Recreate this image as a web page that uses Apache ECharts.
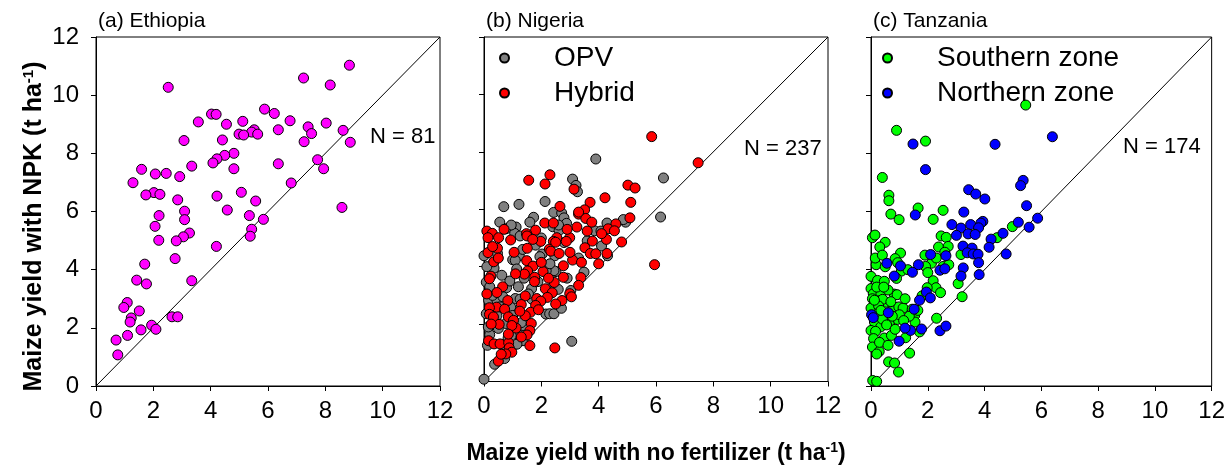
<!DOCTYPE html>
<html>
<head>
<meta charset="utf-8">
<script src="https://cdn.jsdelivr.net/npm/echarts@6/dist/echarts.min.js"></script>
<style>
  html, body { margin: 0; padding: 0; background: #fff; }
  #chart { width: 1228px; height: 470px; }
</style>
</head>
<body>
<div id="chart"></div>
<script>
// axis ticks, same on every panel
var tickMin = 0, tickMax = 12, tickStep = 2;
var oneToOne = [[0, 0], [12, 12]];

// panel titles and sample sizes
var panelNames = ['(a) Ethiopia', '(b) Nigeria', '(c) Tanzania'];
var sampleSizes = ['N = 81', 'N = 237', 'N = 174'];

// (a) Ethiopia  [no fertilizer, NPK]
var ethiopia = [
  [8.84,11.03],[7.24,10.59],[8.17,10.35],[2.52,10.27],[5.88,9.52],[6.22,9.37],[4.03,9.35],[4.19,9.34],
  [3.57,9.08],[5.12,9.10],[6.77,9.12],[4.55,9.00],[8.03,9.04],[7.40,8.91],[5.52,8.81],[5.43,8.73],
  [6.36,8.81],[8.62,8.79],[4.99,8.66],[5.15,8.63],[5.64,8.66],[7.52,8.68],[3.07,8.44],[4.41,8.46],
  [7.26,8.40],[8.87,8.38],[4.81,8.00],[4.49,7.93],[4.22,7.81],[4.08,7.67],[6.36,7.64],[7.73,7.78],
  [3.34,7.56],[1.59,7.45],[7.94,7.47],[4.81,7.47],[2.07,7.29],[2.45,7.31],[2.92,7.20],[1.29,6.99],
  [6.81,6.98],[2.02,6.65],[1.74,6.57],[2.23,6.59],[5.07,6.66],[2.85,6.40],[4.22,6.53],[5.57,6.36],
  [3.09,6.01],[4.58,6.05],[8.58,6.14],[2.20,5.86],[3.09,5.72],[5.35,5.86],[5.84,5.73],[2.06,5.49],
  [5.43,5.39],[3.26,5.26],[3.05,5.13],[5.38,5.15],[2.19,5.01],[2.80,4.99],[4.20,4.80],[2.76,4.38],
  [1.70,4.19],[1.42,3.64],[1.76,3.51],[3.34,3.62],[1.09,2.87],[0.97,2.70],[1.51,2.58],[1.23,2.34],
  [1.19,2.20],[2.65,2.38],[2.85,2.38],[1.94,2.09],[2.09,1.95],[1.57,1.93],[1.10,1.74],[0.70,1.58],
  [0.76,1.07]
];

// (b) Nigeria
var nigeriaOPV = [
  [3.90,7.75],[6.26,7.09],[6.16,5.73],[3.09,7.05],[3.21,6.83],[3.26,6.61],[0.69,6.09],[1.22,6.17],
  [2.13,6.27],[1.73,5.72],[2.43,5.89],[2.71,5.87],[2.79,5.70],[2.88,5.51],[0.77,5.32],[1.12,5.38],
  [1.07,5.16],[1.26,5.07],[2.40,5.39],[2.62,5.26],[4.29,5.52],[3.86,5.25],[4.08,5.24],[4.94,5.55],
  [4.86,5.64],[4.10,4.72],[4.31,4.38],[0.00,4.38],[0.47,4.46],[1.23,4.38],[1.00,4.24],[1.09,4.22],
  [1.14,3.92],[2.03,4.44],[2.47,4.38],[2.79,4.84],[2.51,3.83],[2.44,3.86],[3.49,3.81],[0.08,3.46],
  [0.79,3.27],[1.66,3.23],[2.29,3.23],[2.47,3.20],[2.59,3.21],[3.03,3.17],[0.16,2.83],[0.45,2.83],
  [0.66,2.95],[1.09,2.89],[1.26,2.87],[1.67,2.87],[0.08,2.36],[0.93,2.59],[0.45,2.29],[0.76,2.02],
  [1.36,1.95],[2.16,2.35],[2.29,2.36],[2.44,2.36],[0.20,1.63],[0.12,1.26],[0.84,1.51],[1.20,1.63],
  [1.36,1.42],[3.06,1.40],[0.37,0.60],[0.72,0.80],[0.00,0.08],[1.88,3.48],[2.17,3.86],[0.34,4.15],
  [0.55,5.55],[0.95,5.45],[1.35,4.60],[1.80,4.75],[1.95,4.35],[0.35,3.95],[0.62,3.70],[0.90,3.50],
  [1.20,3.30],[1.55,3.05],[0.30,3.00],[0.55,2.60],[1.00,2.30],[1.30,2.05],[0.15,1.90],[0.50,1.85],
  [0.75,1.15],[0.95,1.60],[1.15,1.30],[2.70,2.55],[2.90,3.60],[3.30,4.30],[3.60,4.90],[2.00,5.00],
  [1.60,5.55],[2.30,4.10],[2.60,5.45],[1.40,3.60],[0.20,3.30],[0.10,4.00]
];
var nigeriaHybrid = [
  [5.85,8.53],[7.47,7.62],[1.56,7.01],[2.30,7.20],[2.13,6.88],[3.14,6.70],[5.02,6.84],[5.27,6.74],
  [4.22,6.40],[5.12,6.24],[3.70,6.24],[3.51,5.98],[3.30,5.83],[3.55,5.68],[5.09,5.70],[4.60,5.49],
  [2.12,5.52],[2.42,5.52],[1.80,5.27],[3.24,5.38],[3.76,5.55],[4.33,5.32],[3.60,5.24],[0.10,5.24],
  [0.29,5.16],[0.14,5.01],[0.51,5.01],[0.93,4.93],[1.48,5.15],[1.50,5.07],[1.98,4.88],[2.54,5.01],
  [2.99,5.01],[2.87,4.88],[2.42,4.88],[2.28,4.61],[2.33,4.54],[2.62,4.46],[3.78,4.89],[4.27,4.95],
  [4.80,4.86],[3.52,4.66],[3.71,4.46],[4.29,4.46],[1.51,4.64],[0.14,4.49],[0.34,4.17],[1.49,4.21],
  [3.09,4.23],[3.40,4.15],[4.00,4.10],[2.77,4.03],[1.71,4.02],[2.06,3.83],[1.52,3.85],[1.41,3.74],
  [1.77,3.63],[0.24,3.67],[0.19,3.58],[2.77,3.63],[3.38,3.62],[1.76,3.48],[2.14,3.23],[2.38,3.09],
  [1.84,2.89],[1.44,2.98],[2.21,2.93],[2.99,3.06],[2.72,2.82],[1.98,2.80],[0.83,2.82],[1.80,2.65],
  [1.30,2.68],[0.44,2.59],[0.19,2.57],[0.19,2.34],[0.72,2.52],[1.62,2.41],[1.44,2.29],[0.85,2.25],
  [0.33,2.25],[1.03,2.13],[1.12,1.86],[1.65,2.02],[1.60,1.77],[0.53,1.99],[0.97,1.95],[1.50,1.62],
  [0.16,1.42],[0.35,1.31],[0.56,1.31],[0.86,1.35],[0.88,1.17],[0.97,1.02],[0.76,0.96],[0.50,0.71],
  [2.47,1.17],[5.95,4.07],[0.47,4.64],
  [0.30,4.70],[0.65,3.30],[1.10,3.75],[0.45,3.10],[1.25,2.45],[2.45,3.45],[2.00,4.15],[1.70,4.95],
  [3.00,4.50],[2.50,4.85],[0.25,2.00],[0.85,1.65],[1.90,2.50],[2.50,2.70],[3.30,3.35],[1.05,4.50],
  [0.70,5.30],[2.90,5.30],[4.10,5.15],[3.90,4.45],[1.30,1.55],[0.60,0.95],[2.25,3.60],[3.05,2.95],
  [1.60,1.25],[0.10,3.05],[0.50,4.30],[4.55,5.25],[2.65,6.10],[3.30,5.90]
];

// (c) Tanzania
var tanzaniaSouth = [
  [5.45,9.66],[0.90,8.79],[1.92,8.42],[0.40,7.17],[0.63,6.56],[0.63,6.37],[0.70,5.91],[0.99,5.72],
  [1.66,6.12],[2.54,6.04],[2.19,5.73],[4.98,5.48],[4.44,5.10],[0.05,5.10],[0.14,5.19],[0.50,4.94],
  [0.31,4.78],[1.04,4.57],[0.85,4.38],[0.94,4.24],[1.07,3.95],[0.18,4.17],[2.47,5.16],[2.65,5.11],
  [2.38,4.78],[2.72,4.80],[2.13,4.22],[1.92,4.11],[2.54,4.11],[2.74,4.17],[3.17,4.52],[0.00,3.77],
  [0.23,3.63],[0.47,3.60],[0.00,3.35],[0.08,3.17],[0.35,3.17],[0.82,3.16],[0.92,3.14],[0.05,3.00],
  [0.26,2.93],[0.54,2.88],[0.41,2.98],[3.07,3.52],[2.19,3.62],[2.29,3.38],[2.45,3.21],[1.98,3.38],
  [3.21,3.07],[0.00,2.68],[0.27,2.75],[0.78,2.72],[0.98,2.72],[1.13,2.68],[1.45,2.64],[1.54,2.43],
  [1.55,2.20],[0.93,2.29],[0.64,2.14],[0.12,2.20],[0.34,2.03],[0.00,1.91],[0.16,1.88],[0.09,1.63],
  [0.47,1.65],[0.72,1.74],[0.05,1.34],[0.29,1.19],[1.22,1.66],[1.71,1.86],[2.31,2.33],[1.36,1.13],
  [0.62,0.83],[0.83,0.79],[0.97,0.48],[0.06,0.19],[0.20,0.16],
  [0.10,2.40],[0.25,2.50],[0.40,2.30],[0.55,2.10],[0.20,3.40],[0.60,3.30],[0.70,2.90],[0.35,2.60],
  [0.15,4.40],[0.50,4.10],[1.20,3.00],[1.35,2.40],[1.65,2.60],[0.85,1.95],[1.00,2.45],[0.30,1.50],
  [0.60,1.40],[1.90,4.50],[2.30,4.40],[1.30,4.00],[2.00,3.90],[0.90,3.70],[0.40,4.50],[2.60,4.60],
  [1.80,3.10],[0.12,2.95],[0.45,3.40],[0.75,2.40],[1.15,2.25],[0.20,1.10]
];
var tanzaniaNorth = [
  [6.39,8.57],[4.37,8.31],[1.48,8.32],[1.92,7.44],[5.36,7.07],[5.27,6.89],[3.44,6.75],[3.69,6.60],
  [4.01,6.43],[5.48,6.20],[3.27,5.98],[1.56,5.88],[5.87,5.77],[5.19,5.63],[3.94,5.66],[3.87,5.60],
  [2.85,5.55],[3.17,5.43],[3.51,5.55],[3.79,5.44],[5.57,5.46],[3.01,5.18],[3.42,5.23],[3.67,5.21],
  [4.65,5.25],[4.23,5.05],[4.16,4.77],[3.24,4.81],[3.56,4.74],[3.39,4.58],[3.60,4.54],[3.77,4.53],
  [4.76,4.54],[2.10,4.52],[2.64,4.48],[3.79,4.24],[3.25,4.06],[3.17,3.78],[3.81,3.83],[0.56,4.22],
  [1.04,4.13],[1.67,4.17],[1.46,3.91],[0.82,3.78],[2.43,3.98],[2.60,4.03],[1.95,3.23],[2.09,3.03],
  [1.71,2.95],[1.52,2.64],[0.61,2.52],[0.02,2.45],[0.08,2.35],[1.39,1.91],[1.20,1.99],[1.78,1.96],
  [2.43,1.90],[2.64,2.06],[0.99,1.54]
];

var font = 'Liberation Sans, Arial, sans-serif';
var gridLefts = [96, 484, 871];
var gridWidth = 344;

function makeX(i) {
  var ax = {
    type: 'value', gridIndex: i, min: tickMin, max: tickMax, interval: tickStep,
    axisLine: { show: true, lineStyle: { color: '#000', width: 1 } },
    axisTick: { show: true, length: 5, lineStyle: { color: '#000' } },
    axisLabel: { color: '#000', fontSize: 24, fontFamily: font, margin: 13 },
    splitLine: { show: false }
  };
  if (i == 1) {
    ax.name = 'Maize yield with no fertilizer (t ha{sup|-1})';
    ax.nameLocation = 'middle';
    ax.nameGap = 60;
    ax.nameTextStyle = {
      color: '#000', fontSize: 23, fontWeight: 'bold', fontFamily: font,
      rich: { sup: { fontSize: 14, fontWeight: 'bold', fontFamily: font, verticalAlign: 'top', padding: [0, 0, 10, 0] } }
    };
  }
  return ax;
}

function makeY(i) {
  var ax = {
    type: 'value', gridIndex: i, min: tickMin, max: tickMax, interval: tickStep,
    axisLine: { show: true, lineStyle: { color: '#000', width: 1 } },
    axisTick: { show: true, length: 5, lineStyle: { color: '#000' } },
    axisLabel: { show: i == 0, color: '#000', fontSize: 24, fontFamily: font, margin: 17 },
    splitLine: { show: false }
  };
  if (i == 0) {
    ax.name = 'Maize yield with NPK (t ha{sup|-1})';
    ax.nameLocation = 'middle';
    ax.nameRotate = 90;
    ax.nameGap = 49;
    ax.nameTextStyle = {
      color: '#000', fontSize: 25, fontWeight: 'bold', fontFamily: font,
      padding: [0, 30, 0, 0],
      rich: { sup: { fontSize: 15, fontWeight: 'bold', fontFamily: font, verticalAlign: 'top', padding: [0, 0, 11, 0] } }
    };
  }
  return ax;
}

function pointSeries(name, data, color, i) {
  return {
    name: name, type: 'scatter', xAxisIndex: i, yAxisIndex: i,
    data: data, symbol: 'circle', symbolSize: 10,
    itemStyle: { color: color, borderColor: '#000', borderWidth: 1, opacity: 1 },
    emphasis: { disabled: true }
  };
}

function diagSeries(i) {
  return {
    type: 'line', xAxisIndex: i, yAxisIndex: i, data: oneToOne,
    symbol: 'none', silent: true, z: 1,
    lineStyle: { color: '#000', width: 1 }
  };
}

var grids = [], xAxes = [], yAxes = [], titles = [];
for (var i = 0; i < 3; i++) {
  grids.push({ left: gridLefts[i], width: gridWidth, top: 37, bottom: 84, show: true, borderColor: '#000', borderWidth: 1 });
  xAxes.push(makeX(i));
  yAxes.push(makeY(i));
  titles.push({ text: panelNames[i], left: gridLefts[i] + 2, top: 11, padding: 0,
    textStyle: { fontSize: 21, fontWeight: 'normal', color: '#000', fontFamily: font } });
}

var nLabelPos = [[370, 138], [744, 150], [1123, 148]];
var graphics = sampleSizes.map(function (s, i) {
  return { type: 'text', left: nLabelPos[i][0], top: nLabelPos[i][1] - 12,
    style: { text: s, fontSize: 22, fill: '#000', fontFamily: font } };
});

var legendText = { fontSize: 28, color: '#000', fontFamily: font, padding: [0, 0, 0, 40], lineHeight: 30 };

var chart = echarts.init(document.getElementById('chart'));
chart.setOption({
  animation: false,
  backgroundColor: '#fff',
  title: titles,
  grid: grids,
  xAxis: xAxes,
  yAxis: yAxes,
  legend: [
    { data: ['OPV', 'Hybrid'], orient: 'vertical', left: 499, top: 43, padding: 0, icon: 'circle',
      itemWidth: 9, itemHeight: 9, itemGap: 5, selectedMode: false, textStyle: legendText },
    { data: ['Southern zone', 'Northern zone'], orient: 'vertical', left: 882, top: 43, padding: 0, icon: 'circle',
      itemWidth: 9, itemHeight: 9, itemGap: 5, selectedMode: false, textStyle: legendText }
  ],
  graphic: graphics,
  series: [
    diagSeries(0), diagSeries(1), diagSeries(2),
    pointSeries('Ethiopia', ethiopia, '#ff00ff', 0),
    pointSeries('OPV', nigeriaOPV, '#808080', 1),
    pointSeries('Hybrid', nigeriaHybrid, '#ff0000', 1),
    pointSeries('Southern zone', tanzaniaSouth, '#00ff00', 2),
    pointSeries('Northern zone', tanzaniaNorth, '#0000ff', 2)
  ]
});
</script>
</body>
</html>
